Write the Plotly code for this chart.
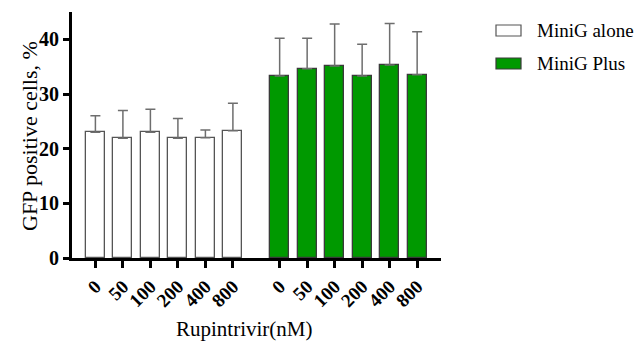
import plotly.graph_objects as go

concentrations = ["0", "50", "100", "200", "400", "800"]
alone_mean = [23.0, 21.9, 23.0, 21.9, 22.0, 23.3]
alone_sd = [3.0, 5.1, 4.2, 3.6, 1.4, 5.0]
plus_mean = [33.3, 34.6, 35.1, 33.3, 35.3, 33.5]
plus_sd = [6.9, 5.6, 7.7, 5.8, 7.6, 7.9]
series_names = ["MiniG alone", "MiniG Plus"]
y_ticks = [0, 10, 20, 30, 40]

GROUP_OFFSET = 6.7
x_alone = [i for i in range(len(concentrations))]
x_plus = [i + GROUP_OFFSET for i in range(len(concentrations))]

FONT = "Liberation Serif, Times New Roman, serif"
GREEN = "#009900"
ERR = "#6e6e6e"

fig = go.Figure()
fig.add_trace(go.Bar(
    x=x_alone, y=alone_mean, width=0.69, name=series_names[0],
    marker=dict(color="white", line=dict(color="#555555", width=1.3)),
    error_y=dict(type="data", array=alone_sd, arrayminus=[0] * 6, symmetric=False,
                 color=ERR, thickness=1.5, width=5),
    showlegend=False,
))
fig.add_trace(go.Bar(
    x=x_plus, y=plus_mean, width=0.69, name=series_names[1],
    marker=dict(color=GREEN, line=dict(color="#3a3a3a", width=1.3)),
    error_y=dict(type="data", array=plus_sd, arrayminus=[0] * 6, symmetric=False,
                 color=ERR, thickness=1.5, width=5),
    showlegend=False,
))

# page offset (default body margin of the html page)
OFF = 8
PAGE_W, PAGE_H = 643, 343
FIG_W, FIG_H = PAGE_W - OFF, PAGE_H - OFF

# plot area geometry (page px)
L, R, T, B = 72, 441, 12, 258
W, H = R - L, B - T


def px(x):
    return (x - L) / W


def py(y):
    return (B - y) / H


shapes = []
annotations = []
legend_items = [
    (series_names[0], "white", "#555555", 25, 36, 30.5),
    (series_names[1], GREEN, "#3a3a3a", 58, 69, 63.5),
]
for name, fill, line, y0, y1, yc in legend_items:
    shapes.append(dict(type="rect", xref="paper", yref="paper",
                       x0=px(496), x1=px(521), y0=py(y1), y1=py(y0),
                       fillcolor=fill, line=dict(color=line, width=1.2)))
    annotations.append(dict(text=name, xref="paper", yref="paper",
                            x=px(535), y=py(yc), xanchor="left", yanchor="middle",
                            showarrow=False, font=dict(family=FONT, size=19, color="black")))

annotations.append(dict(text="GFP positive cells, %", xref="paper", yref="paper",
                        x=px(29), y=py(136), textangle=-90, xanchor="center", yanchor="middle",
                        showarrow=False, font=dict(family=FONT, size=22, color="black")))
annotations.append(dict(text="Rupintrivir(nM)", xref="paper", yref="paper",
                        x=px(244), y=py(329), xanchor="center", yanchor="middle",
                        showarrow=False, font=dict(family=FONT, size=21, color="black")))

unit = 27.5
x_left = -(95.4 - L) / unit
x_right = x_left + W / unit

fig.update_layout(
    width=FIG_W, height=FIG_H,
    margin=dict(l=L - OFF, r=PAGE_W - R, t=T - OFF, b=PAGE_H - B, pad=0),
    paper_bgcolor="white", plot_bgcolor="white",
    bargap=0,
    shapes=shapes,
    annotations=annotations,
    xaxis=dict(
        range=[x_left, x_right],
        tickmode="array",
        tickvals=x_alone + x_plus,
        ticktext=concentrations + concentrations,
        tickangle=-45,
        ticks="outside", ticklen=7, tickwidth=2.5, tickcolor="black",
        showline=True, linecolor="black", linewidth=3,
        showgrid=False, zeroline=False,
        tickfont=dict(family=FONT, size=19, color="black", weight="bold"),
    ),
    yaxis=dict(
        range=[0, 45],
        tickmode="array", tickvals=y_ticks,
        ticks="outside", ticklen=6, tickwidth=2.5, tickcolor="black",
        showline=True, linecolor="black", linewidth=3,
        showgrid=False, zeroline=False,
        tickfont=dict(family=FONT, size=20, color="black", weight="bold"),
    ),
)

fig.write_html("out.html")
